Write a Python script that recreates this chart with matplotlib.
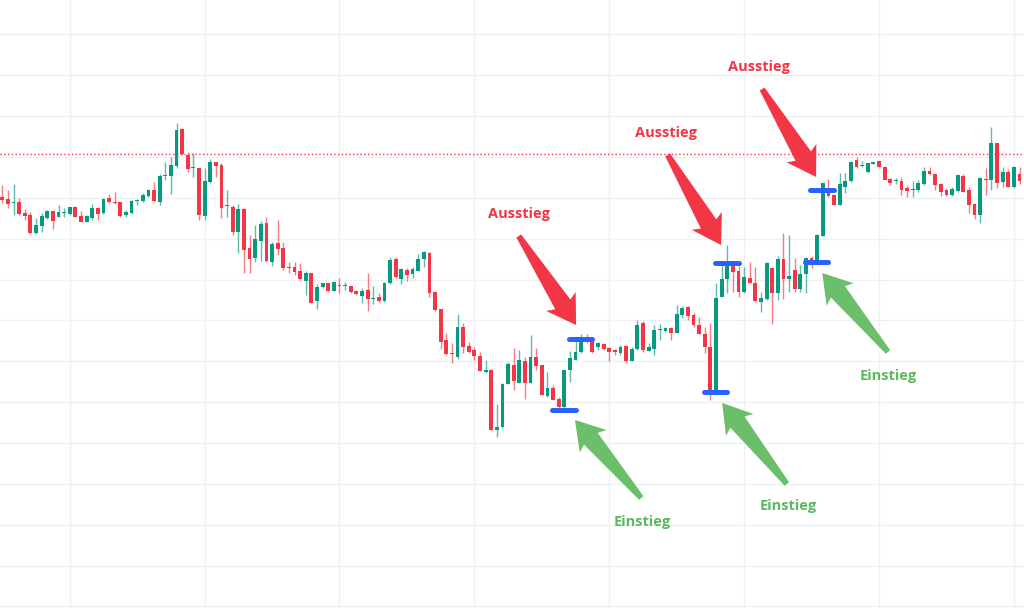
import numpy as np
import matplotlib
matplotlib.use("Agg")
import matplotlib.pyplot as plt
from matplotlib.patches import Polygon

# ---------------- data (price in chart points) ----------------
opens = [411, 409, 405, 406, 395, 393, 375, 382, 390, 397, 391, 395, 394, 401, 392, 386, 390, 400, 395, 410,
         406, 406, 393, 395, 407, 407, 412, 418, 406, 432, 432, 442, 479, 453, 440, 440, 392, 426, 446, 443,
         402, 401, 376, 399, 360, 350, 367, 385, 346, 365, 360, 341, 341, 337, 327, 335, 307, 321, 325, 317,
         323, 322, 322, 317, 312, 318, 309, 311, 307, 325, 349, 329, 338, 334, 337, 349, 355, 316, 299, 268,
         255, 251, 281, 262, 258, 252, 236, 238, 178, 181, 224, 243, 225, 247, 225, 251, 243, 212, 220, 209,
         201, 238, 248, 256, 271, 267, 261, 264, 260, 258, 255, 262, 247, 259, 285, 257, 259, 278, 277, 280,
         275, 293, 301, 293, 283, 274, 261, 218, 311, 329, 342, 337, 316, 330, 325, 306, 309, 340, 315, 349,
         329, 338, 319, 334, 350, 346, 372, 419, 413, 403, 421, 427, 448, 442, 436, 444, 447, 441, 429, 427,
         427, 420, 418, 418, 424, 437, 434, 424, 418, 413, 417, 432, 418, 404, 393, 429, 428, 465, 426, 436,
         421, 434]
highs = [423, 418, 424, 410, 399, 396, 390, 395, 398, 397, 403, 400, 401, 402, 397, 393, 404, 401, 410, 414,
         416, 406, 398, 408, 409, 415, 419, 426, 434, 446, 451, 485, 480, 456, 455, 440, 440, 449, 446, 445,
         418, 403, 404, 400, 373, 383, 387, 391, 366, 388, 366, 346, 346, 345, 337, 335, 324, 325, 325, 326,
         330, 326, 323, 318, 320, 335, 322, 315, 326, 351, 351, 340, 340, 341, 354, 357, 356, 317, 299, 275,
         265, 294, 285, 266, 261, 256, 248, 239, 204, 225, 246, 260, 258, 251, 273, 260, 243, 236, 223, 211,
         238, 257, 269, 274, 274, 269, 266, 265, 261, 259, 263, 263, 261, 288, 287, 265, 283, 284, 281, 281,
         303, 302, 302, 295, 291, 281, 285, 325, 346, 363, 346, 342, 341, 346, 341, 316, 346, 341, 352, 375,
         373, 350, 343, 351, 352, 374, 425, 429, 414, 435, 435, 447, 451, 447, 445, 446, 447, 442, 430, 430,
         431, 422, 427, 428, 441, 441, 435, 425, 420, 421, 434, 434, 421, 405, 431, 440, 481, 465, 441, 439,
         442, 441]
lows = [405, 400, 393, 393, 388, 374, 374, 376, 389, 379, 391, 391, 393, 391, 386, 386, 388, 388, 394, 405,
        404, 391, 391, 394, 403, 406, 411, 406, 403, 428, 414, 440, 453, 436, 431, 388, 388, 425, 431, 390,
        391, 373, 355, 335, 335, 346, 347, 346, 342, 353, 338, 335, 333, 328, 313, 305, 299, 320, 316, 317,
        315, 318, 315, 313, 305, 297, 304, 306, 306, 324, 330, 324, 327, 330, 337, 341, 311, 297, 259, 253,
        245, 249, 255, 255, 248, 237, 235, 178, 171, 180, 224, 218, 225, 209, 225, 238, 213, 211, 208, 196,
        200, 226, 248, 255, 265, 255, 258, 258, 247, 253, 253, 245, 247, 258, 256, 257, 253, 268, 276, 268,
        275, 290, 288, 281, 274, 255, 208, 218, 311, 315, 316, 311, 315, 325, 306, 296, 308, 284, 308, 309,
        316, 316, 316, 315, 340, 346, 372, 411, 403, 403, 415, 426, 440, 441, 435, 444, 441, 428, 423, 424,
        413, 411, 411, 416, 423, 433, 418, 412, 412, 412, 416, 416, 395, 389, 385, 413, 418, 420, 421, 421,
        420, 424]
closes = [408, 404, 406, 394, 392, 375, 383, 392, 397, 387, 396, 396, 401, 391, 386, 392, 400, 394, 409, 406,
          405, 392, 396, 407, 408, 413, 418, 407, 432, 433, 443, 478, 454, 439, 441, 393, 427, 446, 442, 400,
          403, 376, 399, 358, 349, 369, 384, 347, 364, 359, 340, 340, 336, 329, 335, 305, 321, 325, 317, 326,
          322, 323, 316, 314, 317, 309, 310, 307, 325, 348, 331, 339, 333, 339, 349, 356, 315, 298, 266, 254,
          254, 281, 261, 256, 252, 237, 238, 178, 181, 224, 244, 227, 248, 225, 251, 242, 213, 220, 208, 201,
          238, 250, 256, 271, 266, 256, 265, 259, 256, 256, 261, 247, 259, 283, 258, 261, 278, 279, 280, 275,
          294, 300, 292, 283, 274, 261, 213, 310, 329, 342, 336, 316, 331, 325, 307, 310, 345, 315, 349, 329,
          332, 319, 334, 350, 345, 373, 425, 412, 403, 424, 427, 446, 441, 443, 445, 446, 441, 428, 425, 428,
          418, 417, 419, 425, 437, 434, 423, 416, 413, 419, 433, 416, 403, 393, 430, 428, 465, 425, 436, 421,
          441, 427]

# trade markers (candle index, price)
entry_idx = [99.9, 126.9, 144.9]
entry_price = [197.7, 216.3, 346.0]
exit_idx = [102.9, 128.9, 145.9]
exit_price = [269.3, 345.0, 417.7]

resistance_level = 454

# annotations
exit_label = "Ausstieg"
entry_label = "Einstieg"
exit_text_x = [91.9, 118.1, 134.6]
exit_text_y = [394, 475, 541]
exit_tail_x = [91.9, 118.4, 135.2]
exit_tail_y = [372, 453, 519]
exit_tip_x = [102.1, 127.9, 144.8]
exit_tip_y = [283, 363, 431]

entry_text_x = [113.8, 139.8, 157.6]
entry_text_y = [86, 102, 232]
entry_tail_x = [113.7, 139.6, 157.6]
entry_tail_y = [110, 124, 256]
entry_tip_x = [101.9, 128.1, 145.9]
entry_tip_y = [188, 205, 335]

# grid
grid_base, grid_step = 165.0, 40.86
vgrid_start, vgrid_every = 12, 24

# ---------------- style ----------------
GREEN = "#089981"
RED = "#F23645"
BLUE = "#2962FF"
ARROW_RED = "#F23645"
ARROW_GREEN = "#6BBF6A"
TEXT_GREEN = "#5DB85F"
GRID = "#EFF0F3"

fig = plt.figure(figsize=(10.24, 6.08), dpi=100)
fig.patch.set_facecolor("white")
ax = fig.add_axes([0, 0, 1, 1])
n = len(opens)
ax.set_xlim(-0.41, 181.8)
ax.set_ylim(0, 608)
ax.axis("off")

# grid lines
for k in range(-4, 14):
    ax.axhline(grid_base + k * grid_step, color=GRID, lw=1.0, zorder=0)
for v in range(vgrid_start, n + 1, vgrid_every):
    ax.axvline(v, color=GRID, lw=1.0, zorder=0)

# resistance dotted line
ax.axhline(resistance_level, color=RED, lw=1.0, linestyle=(0, (1.0, 1.7)), zorder=1)

# candles
o = np.array(opens, float)
h = np.array(highs, float)
l = np.array(lows, float)
c = np.array(closes, float)
idx = np.arange(n)
up = c >= o
body_col = np.where(up, GREEN, RED)
ax.vlines(idx, l, h, colors=body_col, linewidth=1.0, alpha=0.65, zorder=2)
bottom = np.minimum(o, c)
height = np.maximum(np.abs(c - o), 1.3)
ax.bar(idx, height, bottom=bottom, width=0.68, color=body_col, linewidth=0, zorder=3)

# trade markers
for xs, ys in ((entry_idx, entry_price), (exit_idx, exit_price)):
    xs = np.array(xs)
    lc = ax.hlines(ys, xs - 2.1, xs + 2.1, colors=BLUE, linewidth=3.6, zorder=4)
    lc.set_capstyle("round")


def wedge_arrow(tail, tip, color):
    tr = ax.transData
    T = tr.transform(tail)
    P = tr.transform(tip)
    d = P - T
    d = d / np.hypot(*d)
    nrm = np.array([-d[1], d[0]])
    head_len, head_w, base_w, tail_w = 28.0, 17.5, 9.0, 2.8
    B = P - d * head_len
    J = P - d * (head_len - 3.5)
    pts = [T + nrm * tail_w, J + nrm * base_w, B + nrm * head_w, P,
           B - nrm * head_w, J - nrm * base_w, T - nrm * tail_w]
    pts = tr.inverted().transform(np.array(pts))
    ax.add_patch(Polygon(pts, closed=True, facecolor=color, edgecolor="none", zorder=6))


for i in range(3):
    wedge_arrow((exit_tail_x[i], exit_tail_y[i]), (exit_tip_x[i], exit_tip_y[i]), ARROW_RED)
    ax.text(exit_text_x[i], exit_text_y[i], exit_label, ha="center", va="center",
            fontsize=10.5, fontweight="bold", family=["Open Sans", "DejaVu Sans"],
            color=RED, zorder=7)
    wedge_arrow((entry_tail_x[i], entry_tail_y[i]), (entry_tip_x[i], entry_tip_y[i]), ARROW_GREEN)
    ax.text(entry_text_x[i], entry_text_y[i], entry_label, ha="center", va="center",
            fontsize=10.5, fontweight="bold", family=["Open Sans", "DejaVu Sans"],
            color=TEXT_GREEN, zorder=7)

fig.savefig("out.png", dpi=100, facecolor="white")
